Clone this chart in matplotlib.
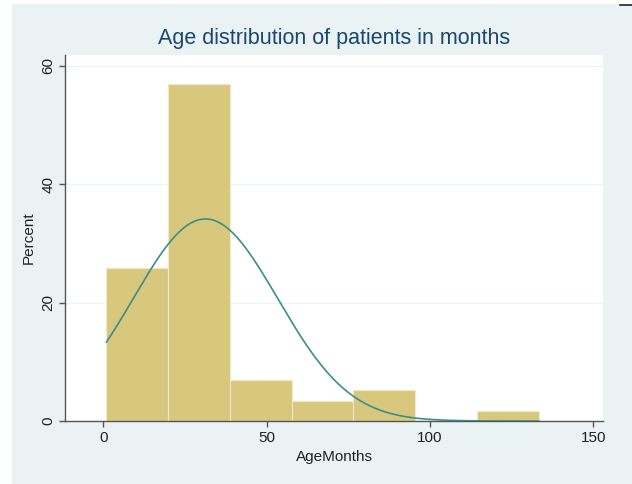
"""
Histogram of patient age (months) with normal overlay
"""

import numpy as np
import matplotlib.pyplot as plt
from matplotlib.patches import Rectangle
from matplotlib.lines import Line2D

# bins (left edges, width) and percent per bin
bin_left = [1.0, 19.9, 38.8, 57.7, 76.6, 95.5, 114.4]
bin_width = 18.9
percent = [25.9, 56.9, 6.9, 3.4, 5.2, 0.0, 1.7]

# normal fit shown on top of the histogram
age_mean = 31.3
age_sd = 22.1
age_min, age_max = 1.0, 133.3

xticks = [0, 50, 100, 150]
yticks = [0, 20, 40, 60]

plt.rcParams['font.family'] = ['Liberation Sans', 'DejaVu Sans']

fig = plt.figure(figsize=(6.32, 4.84), dpi=100, facecolor='white')
# light outer graph region (behind the axes)
fig.patches.append(Rectangle((12 / 632, 0), 1 - 12 / 632, 1 - 4 / 484,
                             transform=fig.transFigure, facecolor='#EAF2F3',
                             edgecolor='none', zorder=-10))
# little dark stroke in the top right corner of the screenshot
fig.lines.append(Line2D([620 / 632, 1], [1 - 4.5 / 484, 1 - 4.5 / 484],
                        transform=fig.transFigure, color='#222233', linewidth=1.2))

ax = fig.add_axes([65 / 632, 1 - 421 / 484, (603 - 65) / 632, (421 - 55) / 484])
ax.set_facecolor('white')

ax.bar(bin_left, percent, width=bin_width, align='edge',
       color='#D8C87E', edgecolor='#F0E8C6', linewidth=0.8, zorder=2)

xs = np.linspace(age_min, age_max, 300)
dens = 100 * bin_width * np.exp(-0.5 * ((xs - age_mean) / age_sd) ** 2) / (age_sd * np.sqrt(2 * np.pi))
ax.plot(xs, dens, color='#3A8F8C', linewidth=1.2, zorder=3)

ax.set_xlim(-11.7, 153)
ax.set_ylim(0, 61.8)
ax.set_xticks(xticks)
ax.set_yticks(yticks)
ax.set_yticklabels([str(v) for v in yticks], rotation=90, va='center')
ax.yaxis.grid(True, color='#EAF2F3', linewidth=0.8, zorder=0)
ax.set_axisbelow(True)

for s in ['top', 'right']:
    ax.spines[s].set_visible(False)
for s in ['left', 'bottom']:
    ax.spines[s].set_color('#555555')
    ax.spines[s].set_linewidth(1.0)
ax.tick_params(direction='out', length=4, width=1, color='#555555',
               labelsize=11, labelcolor='#222222', pad=3)

ax.set_xlabel('AgeMonths', fontsize=11, color='#222222', labelpad=4)
ax.set_ylabel('Percent', fontsize=11, color='#222222', labelpad=4)
ax.set_title('Age distribution of patients in months', fontsize=15.5,
             color='#1A476F', pad=8)

fig.savefig('out.png', dpi=100)
